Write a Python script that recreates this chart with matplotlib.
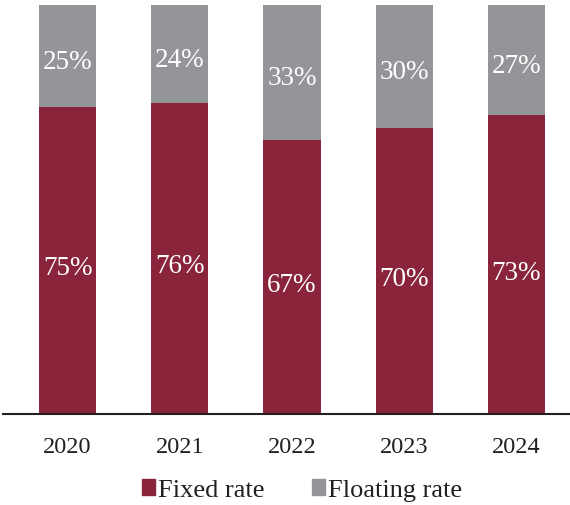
import numpy as np
import matplotlib.pyplot as plt
from matplotlib.patches import Patch

years = ["2020", "2021", "2022", "2023", "2024"]
fixed = [75, 76, 67, 70, 73]
floating = [25, 24, 33, 30, 27]

red = "#8a243b"
gray = "#939598"

plt.rcParams['font.family'] = ['Liberation Serif', 'DejaVu Serif']

fig = plt.figure(figsize=(5.70, 5.06), dpi=100)
# axes box: bottom line at y=415 px, 100% at y=6 px
ax = fig.add_axes([3 / 570, 1 - 415 / 506, 567 / 570, 409 / 506])

x = np.arange(len(years))
w = 0.508
ax.bar(x, fixed, width=w, color=red)
ax.bar(x, floating, width=w, bottom=fixed, color=gray)

for i in range(len(years)):
    ax.text(x[i], fixed[i] / 2 - 1.8, f"{fixed[i]}%", ha='center', va='center',
            color='white', fontsize=19.5)
    ax.text(x[i], fixed[i] + floating[i] / 2 - 1.3, f"{floating[i]}%", ha='center', va='center',
            color='white', fontsize=19.5)

ax.set_xlim(-0.575, 4.477)
ax.set_ylim(0, 100)
ax.set_xticks(x)
ax.set_xticklabels(years, fontsize=17.5, color='#231f20')
ax.tick_params(axis='x', length=0, pad=16)
ax.set_yticks([])
for s in ['left', 'right', 'top']:
    ax.spines[s].set_visible(False)
ax.spines['bottom'].set_color('#231f20')
ax.spines['bottom'].set_linewidth(1.5)

handles = [Patch(color=red, label="Fixed rate"), Patch(color=gray, label="Floating rate")]
fig.legend(handles=handles, loc='center', bbox_to_anchor=(302 / 570, 1 - 491 / 506), ncol=2,
           frameon=False, fontsize=19, handlelength=0.5, handleheight=0.55,
           handletextpad=0.12, columnspacing=1.8, labelcolor='#231f20',
           borderpad=0, borderaxespad=0)

fig.savefig("out.png", dpi=100)
